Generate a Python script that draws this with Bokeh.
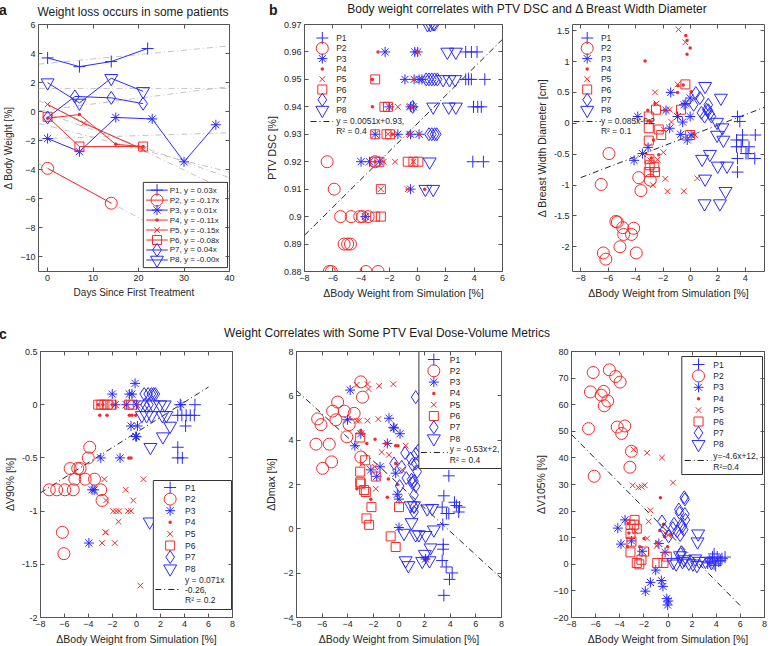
from bokeh.plotting import figure
from bokeh.layouts import column, row
from bokeh.models import Range1d, FixedTicker, Div, LinearAxis
from bokeh.core.properties import value
from bokeh.embed import file_html
from bokeh.resources import INLINE

FONT = "Liberation Sans"
BLUE = "#2a2aff"
RED = "#f52a2a"
AXC = "#555555"
TXT = "#262626"

PATIENTS = ["P1", "P2", "P3", "P4", "P5", "P6", "P7", "P8"]
COLORS = [BLUE, RED, BLUE, RED, RED, RED, BLUE, BLUE]
MARKERS = ["cross", "circle", "asterisk", "dot", "x", "square", "diamond", "inverted_triangle"]
SIZES = [12, 12, 10, 14, 8, 9, 13, 13]

# ---------------- panel a: body weight vs days ----------------
A_DAYS = {
    "P1": [0, 7, 14, 22], "P2": [0, 14], "P3": [0, 7, 15, 23, 30, 37], "P4": [0, 7, 15, 21],
    "P5": [0, 8, 21], "P6": [0, 7, 21], "P7": [0, 6, 14, 21], "P8": [0, 7, 14, 21],
}
A_WT = {
    "P1": [3.7, 3.1, 3.45, 4.35], "P2": [-3.9, -6.3], "P3": [-1.85, -2.75, -0.4, -0.5, -3.45, -0.9],
    "P4": [-0.45, -0.2, -2.25, -2.4], "P5": [0.5, -0.8, -2.6], "P6": [-0.35, -2.4, -2.4],
    "P7": [-0.4, 1.05, 0.95, 0.55], "P8": [2.0, 0.6, 2.3, 1.4],
}
A_SLOPE = [0.03, -0.17, 0.01, -0.11, -0.15, -0.08, 0.04, -0.0]
A_ICPT = [3.33, -3.9, -1.85, -0.15, 0.48, -0.97, 0.13, 1.6]
A_FIT_X = [-2, 40]
A_XTICKS = [0, 10, 20, 30, 40]
A_YTICKS = [-10, -8, -6, -4, -2, 0, 2, 4, 6]

# ---------------- panel b1: PTV DSC ----------------
B1 = {
    "P1": ([3.4, 3.8, 4.2, 3.4, 3.6, 3.8, 4.75, 3.95, 4.25, 4.5, 3.9, 4.65],
           [0.96, 0.96, 0.96, 0.95, 0.95, 0.95, 0.95, 0.94, 0.94, 0.94, 0.92, 0.92]),
    "P2": ([-6.4, -5.9, -5.45, -4.7, -4.1, -3.9, -3.5, -5.2, -4.95, -4.75, -6.25, -6.1, -3.65, -2.8, -3.0],
           [0.92, 0.91, 0.90, 0.90, 0.90, 0.90, 0.90, 0.89, 0.89, 0.89, 0.88, 0.88, 0.88, 0.88, 0.92]),
    "P3": ([-2.3, -0.2, 0.0, -0.9, -0.25, 0.1, 0.3, -2.0, -0.5, -0.3, -3.0, -1.4, -0.5, 0.1, -4.0, -3.4, -0.5, -3.7, -2.7],
           [0.96, 0.96, 0.96, 0.95, 0.95, 0.95, 0.95, 0.94, 0.94, 0.94, 0.93, 0.93, 0.93, 0.93, 0.92, 0.92, 0.91, 0.90, 0.92]),
    "P4": ([-2.8, 0.0, -3.2, -0.25, -3.2, -0.4, -1.8, -0.6, 0.1, -3.0, 0.5],
           [0.96, 0.96, 0.95, 0.95, 0.94, 0.94, 0.93, 0.93, 0.93, 0.92, 0.91]),
    "P5": ([-1.4, -0.6, -2.1, -0.6, -2.4, -1.6, -0.3, -2.6, -0.7],
           [0.94, 0.94, 0.93, 0.93, 0.92, 0.92, 0.92, 0.91, 0.91]),
    "P6": ([-3.0, -2.35, -2.1, -3.0, -2.2, -1.95, -3.0, -2.7, -0.7, -0.3, 0.05, -2.6, -3.0, -2.6],
           [0.95, 0.94, 0.94, 0.93, 0.93, 0.93, 0.92, 0.92, 0.92, 0.92, 0.92, 0.91, 0.90, 0.90]),
    "P7": ([1.1, 1.2, 0.6, 0.8, 1.0, 1.2, 1.4, -0.35, 0.8, 1.0, 1.2, 1.35],
           [0.97, 0.97, 0.95, 0.95, 0.95, 0.95, 0.95, 0.94, 0.93, 0.93, 0.93, 0.93]),
    "P8": ([0.7, 0.9, 2.1, 2.7, 1.8, 2.25, 2.65, 1.1, 2.2, 2.7, 0.85, 0.55, 1.1],
           [0.97, 0.97, 0.96, 0.96, 0.95, 0.95, 0.95, 0.94, 0.94, 0.94, 0.92, 0.91, 0.91]),
}
B1_FIT = {"slope": 0.0051, "intercept": 0.934, "x": [-8, 6], "label": ["y = 0.0051x+0.93,", "R² = 0.4"]}
B1_XTICKS = [-8, -6, -4, -2, 0, 2, 4, 6]
B1_YTICKS = [0.88, 0.89, 0.9, 0.91, 0.92, 0.93, 0.94, 0.95, 0.96, 0.97]
B1_YLABELS = ["0.88", "0.89", "0.9", "0.91", "0.92", "0.93", "0.94", "0.95", "0.96", "0.97"]

# ---------------- panel b2: breast width ----------------
B2 = {
    "P1": ([3.43, 3.6, 3.8, 4.73, 3.36, 3.8, 3.36, 3.7, 4.27, 4.05, 4.2, 3.43, 4.69, 3.43],
           [0.11, 0.03, -0.19, -0.19, -0.27, -0.27, -0.38, -0.38, -0.38, -0.49, -0.49, -0.57, -0.57, -0.79]),
    "P2": ([-5.94, -6.51, -3.77, -3.61, -2.93, -5.44, -5.33, -4.94, -4.87, -4.3, -4.14, -5.14, -6.35, -6.17, -3.95],
           [-0.49, -0.99, -0.88, -1.09, -0.92, -1.59, -1.6, -1.69, -1.8, -1.8, -1.7, -2.0, -2.1, -2.2, -2.1]),
    "P3": ([-4.11, -3.5, -3.84, -3.09, -1.44, -1.78, -1.51, -0.94, -0.71, -0.57, -0.46, -0.34, -0.23, -0.02, -0.02, 0.05],
           [-0.6, -0.49, 0.11, -0.39, 0.5, 0.21, -0.08, 0.11, -0.18, 0.02, 0.3, 0.32, -0.27, 0.41, 0.11, -0.19]),
    "P4": ([-3.31, -0.34, -0.25, -0.02, -0.25, -0.91, -0.53, -0.94, 0.05, -3.11, -2.58, -1.9, -2.99, -2.93, -2.31, -2.86, -2.7],
           [1.01, 1.42, 1.34, 1.22, 1.12, 0.61, 0.62, 0.5, 0.51, 0.21, 0.32, 0.21, 0.04, 0.02, -0.51, -0.56, -0.27]),
    "P5": ([-0.87, -0.37, -0.94, -2.58, -2.47, -1.51, -1.39, -1.94, -1.97, -2.4, -2.93, -2.74, -1.83, -1.67, -0.48, 0.5, 0.34],
           [1.52, 1.31, 0.63, 0.5, 0.32, 0.22, 0.02, -0.1, -0.47, -0.59, -0.6, -1.0, -0.9, -1.1, -1.1, -0.89, -0.19]),
    "P6": ([-3.04, -2.51, -3.04, -2.31, -2.13, -3.04, -2.99, -2.97, -3.04, -2.63, -2.58, -0.69, -0.37, -0.02],
           [0.11, 0.22, -0.08, -0.1, -0.19, -0.28, -0.58, -0.68, -0.79, -0.71, -0.79, 0.22, 0.63, -0.19]),
    "P7": ([0.23, 0.8, 1.3, 1.03, 1.3, 1.42, 1.53, 0.69, 0.39, 1.19],
           [0.3, 0.17, 0.3, 0.11, 0.21, 0.16, 0.11, 0.41, 0.49, 0.22]),
    "P8": ([1.07, 2.22, 1.94, 2.33, 1.94, 2.4, 0.85, 1.42, 1.07, 1.99, 2.67, 2.56, 1.03, 2.15],
           [0.6, 0.41, 0.02, -0.07, -0.19, -0.27, -0.58, -0.5, -0.9, -0.69, -0.69, -1.1, -1.3, -1.3]),
}
B2_FIT = {"slope": 0.085, "intercept": -0.2, "x": [-8, 5.5], "label": ["y = 0.085x-0.2", "R² = 0.1"]}
B2_XTICKS = [-8, -6, -4, -2, 0, 2, 4]
B2_YTICKS = [-2, -1.5, -1, -0.5, 0, 0.5, 1, 1.5]
B2_YLABELS = ["-2", "-1.5", "-1", "-0.5", "0", "0.5", "1", "1.5"]

# ---------------- panel c1: V90 ----------------
C1 = {
    "P1": ([3.65, 4.87, 3.44, 3.78, 4.14, 4.48, 4.82, 4.09, 3.44, 3.44, 3.82],
           [0, 0, -0.1, -0.1, -0.1, -0.1, -0.1, -0.2, -0.4, -0.5, -0.5]),
    "P2": ([-3.9, -4.02, -4.9, -5.53, -4.7, -5.14, -4.28, -3.5, -7.27, -6.65, -5.97, -5.27, -2.98, -2.87, -6.18, -6.05],
           [-0.4, -0.5, -0.6, -0.6, -0.6, -0.7, -0.7, -0.7, -0.8, -0.8, -0.8, -0.8, -0.8, -0.9, -1.2, -1.4]),
    "P3": ([-2.02, -0.12, -0.59, -0.38, -1.76, -0.85, 0.0, 3.7, -0.46, 0.08, -0.07, 0.0, -2.98, -1.37, -3.7, -3.53, -3.97],
           [0.1, 0.2, 0.1, 0.1, 0, 0, 0, 0, -0.2, -0.2, -0.3, -0.3, -0.5, -0.5, -0.8, -0.8, -1.3]),
    "P4": ([-3.19, -2.8, -2.02, 0.06, -3.06, -2.46, -0.59, -0.38, -0.07, -0.64, -0.46],
           [0, 0, 0, 0, -0.1, -0.1, -0.1, -0.1, -0.1, -0.5, -0.5]),
    "P5": ([-2.67, -0.9, -0.27, -2.54, 0.58, -1.94, -1.68, -1.44, -0.72, -0.46, -1.5, -2.6, -2.55, -2.87, -1.81, 0.32],
           [-0.7, -0.8, -0.9, -0.9, -0.7, -1, -1, -1, -1, -1, -1.1, -1.2, -1.2, -1.3, -1.3, -1.7]),
    "P6": ([-3.19, -2.93, -2.67, -2.41, -2.07, -0.64, -0.33], [0, 0, 0, 0, 0, 0, 0]),
    "P7": ([0.64, 0.97, 1.24, 1.42, 1.57, 0.71, 1.03], [0.1, 0.1, 0.1, 0.1, 0.1, 0, 0]),
    "P8": ([0.32, 1.37, 1.96, 2.35, 0.45, 0.84, 1.24, 2.15, 2.48, 2.8, 2.2, 1.16, 1.1],
           [0, 0, 0, 0, -0.1, -0.1, -0.1, -0.1, -0.1, -0.2, -0.3, -0.4, -1.1]),
}
C1_FIT = {"slope": 0.071, "intercept": -0.26, "x": [-8, 6], "label": ["y = 0.071x", "-0.26,", "R² = 0.2"]}
C1_YTICKS = [-2, -1.5, -1, -0.5, 0, 0.5]
C1_YLABELS = ["-2", "-1.5", "-1", "-0.5", "0", "0.5"]

# ---------------- panel c2: Dmax ----------------
C2 = {
    "P1": ([3.89, 3.5, 3.37, 3.7, 3.89, 4.33, 4.48, 4.72, 4.66, 3.42, 3.45, 3.45, 3.37, 3.68, 4.15, 3.94, 3.5],
           [2.39, 1.49, 0.98, 0.69, 0.69, 1.2, 1.05, 0.98, 0.76, 0.2, -0.7, -0.92, -1.43, -1.72, -1.99, -2.28, -3.0]),
    "P2": ([-2.98, -4.79, -2.85, -5.18, -4.27, -3.5, -6.35, -4.92, -6.09, -3.89, -4.07, -6.48, -5.44, -2.98, -5.26, -5.96],
           [6.63, 5.72, 5.94, 5.31, 5.31, 5.21, 4.96, 4.92, 4.7, 4.7, 4.15, 3.82, 3.82, 3.24, 3.02, 2.73]),
    "P3": ([-3.81, -4.02, -2.98, -3.45, -0.78, -0.44, -0.39, 0.08, -0.91, -2.2, -1.48, -1.74, -0.26, -0.13, 0.0, 0.0, 2.07],
           [6.26, 4.92, 4.29, 3.75, 4.99, 4.58, 4.55, 4.29, 3.85, 2.66, 2.8, 2.37, 2.51, 1.56, 1.34, 0.06, -1.36]),
    "P4": ([-2.98, -2.85, -1.87, -2.51, -1.04, -0.26, -0.08, -3.29, -0.26, -0.83, -0.91, -2.2, -0.13, 2.25],
           [4.44, 4.29, 4.04, 3.85, 3.85, 3.75, 3.75, 1.81, 2.95, 2.25, 1.42, 1.34, 2.0, -1.36]),
    "P5": ([-3.29, -2.46, -2.38, -1.55, -0.44, -3.29, -3.11, -2.46, -1.61, 0.52, -1.35, -0.78, -1.89, -1.81, -2.85, 0.26],
           [6.5, 6.53, 6.31, 6.45, 6.53, 4.88, 4.88, 4.88, 4.95, 3.75, 3.46, 3.34, 2.8, 1.81, 2.95, 2.66]),
    "P6": ([-3.03, -2.64, -3.03, -3.03, -2.98, -2.72, -2.59, -1.81, -2.15, -2.54, -2.33, 0.0, -0.65, -0.26],
           [4.12, 3.09, 2.58, 2.1, 2.04, 1.75, 1.66, 2.36, 0.98, 0.47, 0.18, 0.98, -0.34, -0.82]),
    "P7": ([1.3, 0.47, 1.5, 1.3, 0.91, 1.04, 1.3, 1.42, 0.57, 0.98, 1.17, 1.3, 1.04, 1.17, 1.17, 1.17, 0.05, 0.21, -0.39],
           [5.94, 3.42, 3.53, 3.39, 3.17, 2.91, 2.95, 2.58, 2.29, 2.22, 2.15, 1.93, 2.07, 1.52, 0.98, 0.76, 1.93, 2.8, 2.95]),
    "P8": ([0.91, 1.17, 2.2, 2.59, 0.98, 0.39, 1.3, 1.55, 2.07, 2.72, 2.46, 2.02, 1.81, 0.52, 0.73, 2.38],
           [1.05, 1.05, 0.91, 0.93, 0.29, -0.19, -0.26, -0.26, -0.29, -0.04, -0.85, -1.14, -1.46, -1.43, -1.65, -1.43]),
}
C2_FIT = {"slope": -0.53, "intercept": 2.0, "x": [-8, 8], "label": ["y = -0.53x+2,", "R² = 0.4"]}
C2_YTICKS = [-4, -2, 0, 2, 4, 6, 8]

# ---------------- panel c3: V105 ----------------
C3 = {
    "P1": ([3.42, 3.69, 3.82, 4.08, 4.47, 4.73, 3.56, 3.82, 3.95, 4.21, 4.34, 3.29],
           [1.2, 2.7, 3.9, 2.7, 2.1, 2.7, 0.9, 0.2, -0.4, 1.2, 1.5, 0.5]),
    "P2": ([-6.2, -4.86, -4.34, -3.97, -6.43, -5.33, -5.54, -5.0, -5.28, -6.59, -4.21, -3.58, -3.84, -3.03, -3.16, -6.12],
           [72.1, 73.1, 70.6, 68.5, 64.8, 65.0, 63.6, 61.4, 59.6, 51.0, 51.6, 52.0, 49.2, 42.5, 36.5, 33.1]),
    "P3": ([-3.56, -4.16, -3.9, -3.03, -2.14, -0.76, -0.24, -1.02, -1.46, -1.88, -0.55, -0.42, -0.1, 0.03, -0.03],
           [16.7, 13.6, 7.6, 8.8, 4.9, 7.8, 4.5, -2.2, -6.8, -10.1, -6.1, -8.3, -12.9, -13.8, -15.3]),
    "P4": ([-0.63, -0.37, -3.29, -3.24, -3.37, -1.99, -2.33, -0.94, -0.68, -0.29, -0.03, 0.24],
           [25.0, 15.1, 15.2, 11.8, 6.6, 9.7, 6.6, 8.2, 12.7, 10.4, 6.6, 11.0]),
    "P5": ([-2.85, -1.73, -0.5, 0.42, -2.93, -2.46, -2.2, -1.93, -1.46, -1.6, -2.72, -1.73, -0.94, -0.24, 0.03],
           [43.1, 41.9, 40.1, 30.7, 29.7, 28.9, 29.2, 29.7, 20.3, 16.1, 12.4, 9.7, 6.9, 11.8, 11.0]),
    "P6": ([-3.11, -2.77, -3.11, -2.59, -3.03, -3.11, -2.59, -2.38, -2.2, -1.99, -0.89, -0.37, -0.1, -2.8],
           [14.9, 16.7, 11.4, 13.4, 8.5, 4.5, 0.5, 0.0, 1.7, 4.8, 0.5, 0.5, 2.9, 14.9]),
    "P7": ([1.35, 1.4, 0.9, 0.95, 1.4, 1.45, 1.1, 1.2, 1.3, 0.75, 1.0, -0.5, -0.3, 0.4, 0.5, 1.1, 1.05, 0.05],
           [25.2, 24.4, 20.6, 19.4, 18.9, 16.7, 14.9, 14.3, 13.0, 12.4, 11.0, 16.1, 13.0, 13.6, 15.2, 4.5, 3.9, 10.5]),
    "P8": ([2.5, 2.45, 1.0, 0.42, 0.68, 1.2, 1.73, 2.07, 2.4, 2.6, 3.1, 3.6, 2.25, 1.35],
           [11.5, 8.5, 3.3, 0.8, 0.2, 1.1, 0.5, 0.2, -0.4, 1.2, 1.2, 0.7, 2.1, 1.8]),
}
C3_FIT = {"slope": -4.6, "intercept": 12.0, "x": [-8, 6], "label": ["y=-4.6x+12,", "R²=0.4"]}
C3_YTICKS = [-20, -10, 0, 10, 20, 30, 40, 50, 60, 70, 80]

C_XTICKS = [-8, -6, -4, -2, 0, 2, 4, 6, 8]
XLAB = "\u0394Body Weight from Simulation [%]"

# ---- legend layouts (pixels inside each plot frame, measured from its top-left corner) ----
LEG_A = dict(box=(107, 163, 193, 251), mx=121, tx=134, y0=171, dy=10.3, seg=(110, 132), font="8px")
LEG_B1 = dict(box=None, mx=18, tx=32, y0=13.5, dy=10.3, fit=(6, 29, 97), fty=96, fdy=10, font="8.5px")
LEG_B2 = dict(box=None, mx=15, tx=29, y0=13.5, dy=10.3, fit=(1, 29, 97), fty=96, fdy=10, font="8.5px")
LEG_C1 = dict(box=(114, 129, 193, 258), mx=131, tx=146, y0=136, dy=11.6, fit=(116, 141, 238), fty=228, fdy=10, font="8.5px")
LEG_C2 = dict(box=(123, 0, 206, 117), mx=138, tx=154, y0=8, dy=11.3, fit=(125, 152, 101), fty=97, fdy=11, font="8.5px")
LEG_C3 = dict(box=(112, 5, 194, 123), mx=129, tx=144, y0=13, dy=11.4, fit=(115, 142, 109), fty=104, fdy=11, font="8.5px")


def make_fig(w, h, left, right, top, bottom, xr, yr):
    p = figure(width=w, height=h, min_border_left=left, min_border_right=right,
               min_border_top=top, min_border_bottom=bottom,
               x_range=Range1d(*xr), y_range=Range1d(*yr),
               output_backend="svg", toolbar_location=None, tools="")
    fw, fh = w - left - right, h - top - bottom
    p.extra_x_ranges = {"lx": Range1d(0, fw)}
    p.extra_y_ranges = {"ly": Range1d(fh, 0)}
    p.outline_line_color = AXC
    p.outline_line_width = 1
    p.xgrid.visible = False
    p.ygrid.visible = False
    p.background_fill_color = "white"
    p.border_fill_color = "white"
    return p


def mirror_axis(ticks):
    return LinearAxis(ticker=FixedTicker(ticks=ticks), axis_line_color=None,
                      major_tick_in=4, major_tick_out=0, major_tick_line_color=AXC,
                      minor_tick_line_color=None, major_label_text_font_size="0px",
                      major_label_standoff=0, major_label_text_alpha=0)


def style_axes(p, xticks, yticks, xlab, ylab, ylabels=None, tick_size="9px", lab_size="10.5px"):
    p.xaxis.ticker = FixedTicker(ticks=xticks)
    p.yaxis.ticker = FixedTicker(ticks=yticks)
    if ylabels is not None:
        p.yaxis.major_label_overrides = {t: s for t, s in zip(yticks, ylabels)}
    p.xaxis.axis_label = xlab
    p.yaxis.axis_label = ylab
    for ax in (p.xaxis[0], p.yaxis[0]):
        ax.axis_line_color = None
        ax.major_tick_in = 4
        ax.major_tick_out = 0
        ax.major_tick_line_color = AXC
        ax.minor_tick_line_color = None
        ax.major_label_text_font = FONT
        ax.major_label_text_font_size = tick_size
        ax.major_label_text_color = TXT
        ax.major_label_standoff = 3
        ax.axis_label_text_font = FONT
        ax.axis_label_text_font_size = lab_size
        ax.axis_label_text_font_style = "normal"
        ax.axis_label_text_color = TXT
        ax.axis_label_standoff = 3
    p.add_layout(mirror_axis(xticks), "above")
    p.add_layout(mirror_axis(yticks), "right")


def draw_legend(p, lay, labels, fit=None, with_lines=False):
    kw = dict(x_range_name="lx", y_range_name="ly")
    if lay["box"] is not None:
        x0, y0, x1, y1 = lay["box"]
        p.quad(left=[x0], right=[x1], top=[y0], bottom=[y1], fill_color="white",
               line_color="#333333", line_width=1, **kw)
    rows = [lay["y0"] + i * lay["dy"] for i in range(len(labels))]
    for i in range(len(labels)):
        if with_lines:
            s0, s1 = lay["seg"]
            p.segment(x0=[s0], y0=[rows[i]], x1=[s1], y1=[rows[i]], line_color=COLORS[i], line_width=1, **kw)
        p.scatter([lay["mx"]], [rows[i]], marker=MARKERS[i], size=SIZES[i], line_color=COLORS[i],
                  fill_color=COLORS[i] if MARKERS[i] == "dot" else None, line_width=1, **kw)
    p.text([lay["tx"]] * len(labels), rows, text=labels, text_baseline="middle", text_align="left",
           text_font=value(FONT), text_font_size=value(lay["font"]), text_color=TXT, **kw)
    if fit is not None:
        fx0, fx1, fy = lay["fit"]
        p.segment(x0=[fx0], y0=[fy], x1=[fx1], y1=[fy], line_color="#222222",
                  line_dash="6 3 1 3", line_width=1, **kw)
        lines = fit["label"]
        p.text([lay["tx"]] * len(lines), [lay["fty"] + k * lay["fdy"] for k in range(len(lines))],
               text=lines, text_baseline="middle", text_align="left",
               text_font=value(FONT), text_font_size=value(lay["font"]), text_color=TXT, **kw)


def scatter_panel(p, data, fit, lay):
    fx = fit["x"]
    fy = [fit["slope"] * x + fit["intercept"] for x in fx]
    p.line(fx, fy, line_color="#222222", line_dash="6 3 1 3", line_width=1)
    for i, name in enumerate(PATIENTS):
        xs, ys = data[name]
        p.scatter(xs, ys, marker=MARKERS[i], size=SIZES[i], line_color=COLORS[i],
                  fill_color=COLORS[i] if MARKERS[i] == "dot" else None, line_width=1)
    draw_legend(p, lay, PATIENTS, fit=fit)


# ---------------- build panel a ----------------
fa = make_fig(262, 302, 34, 33, 6, 41, (-2, 40), (-11, 6))
style_axes(fa, A_XTICKS, A_YTICKS, "Days Since First Treatment", "\u0394 Body Weight [%]",
           tick_size="9px", lab_size="10px")
for i in range(8):
    fa.line(A_FIT_X, [A_SLOPE[i] * x + A_ICPT[i] for x in A_FIT_X], line_color="#c4c4c4",
            line_dash="6 3 1 3", line_width=1)
for i, name in enumerate(PATIENTS):
    fa.line(A_DAYS[name], A_WT[name], line_color=COLORS[i], line_width=1)
    fa.scatter(A_DAYS[name], A_WT[name], marker=MARKERS[i], size=SIZES[i], line_color=COLORS[i],
               fill_color=COLORS[i] if MARKERS[i] == "dot" else None, line_width=1)
A_LABELS = [f"{name}, y = {A_SLOPE[i]:.2f}x" for i, name in enumerate(PATIENTS)]
draw_legend(fa, LEG_A, A_LABELS, with_lines=True)

# ---------------- panel b ----------------
fb1 = make_fig(270, 302, 40, 30, 6, 49, (-8, 6), (0.88, 0.97))
style_axes(fb1, B1_XTICKS, B1_YTICKS, XLAB, "PTV DSC [%]", B1_YLABELS)
scatter_panel(fb1, B1, B1_FIT, LEG_B1)

fb2 = make_fig(236, 302, 36, 4, 6, 49, (-8.6, 5.4), (-2.4, 1.6))
style_axes(fb2, B2_XTICKS, B2_YTICKS, XLAB, "\u0394 Breast Width Diameter [cm]", B2_YLABELS)
scatter_panel(fb2, B2, B2_FIT, LEG_B2)

# ---------------- panel c ----------------
fc1 = make_fig(262, 304, 38, 30, 7, 31, (-8, 8), (-2, 0.5))
style_axes(fc1, C_XTICKS, C1_YTICKS, XLAB, "\u0394V90% [%]", C1_YLABELS)
scatter_panel(fc1, C1, C1_FIT, LEG_C1)

fc2 = make_fig(270, 304, 33, 31, 7, 31, (-8, 8), (-4, 8))
style_axes(fc2, C_XTICKS, C2_YTICKS, XLAB, "\u0394Dmax [%]")
scatter_panel(fc2, C2, C2_FIT, LEG_C2)

fc3 = make_fig(236, 304, 36, 4, 7, 31, (-8, 8), (-20, 80))
style_axes(fc3, C_XTICKS, C3_YTICKS, XLAB, "\u0394V105% [%]")
scatter_panel(fc3, C3, C3_FIT, LEG_C3)

SPAN = "position:absolute;white-space:nowrap;"
hdr1 = Div(text=(
    "<div style='position:relative;width:768px;height:8px;font-family:\"Liberation Sans\";color:#1a1a1a;'>"
    f"<span style='{SPAN}left:-6px;top:-9px;font-size:14px;font-weight:bold;'>a</span>"
    f"<span style='{SPAN}left:128px;top:-5px;font-size:12px;transform:translateX(-50%);'>Weight loss occurs in some patients</span>"
    f"<span style='{SPAN}left:264px;top:-9px;font-size:14px;font-weight:bold;'>b</span>"
    f"<span style='{SPAN}left:522px;top:-8px;font-size:12px;transform:translateX(-50%);'>Body weight correlates with PTV DSC and \u0394 Breast Width Diameter</span>"
    "</div>"), width=768, height=8, styles={"overflow": "visible"})
hdr2 = Div(text=(
    "<div style='position:relative;width:768px;height:14px;font-family:\"Liberation Sans\";color:#1a1a1a;'>"
    f"<span style='{SPAN}left:-6px;top:-1px;font-size:14px;font-weight:bold;'>c</span>"
    f"<span style='{SPAN}left:382px;top:0px;font-size:12px;transform:translateX(-50%);'>Weight Correlates with Some PTV Eval Dose-Volume Metrics</span>"
    "</div>"), width=768, height=14, styles={"overflow": "visible"})

layout = column(hdr1, row(fa, fb1, fb2, spacing=0), hdr2, row(fc1, fc2, fc3, spacing=0), spacing=0)

open("out.html", "w").write(file_html(layout, INLINE))
